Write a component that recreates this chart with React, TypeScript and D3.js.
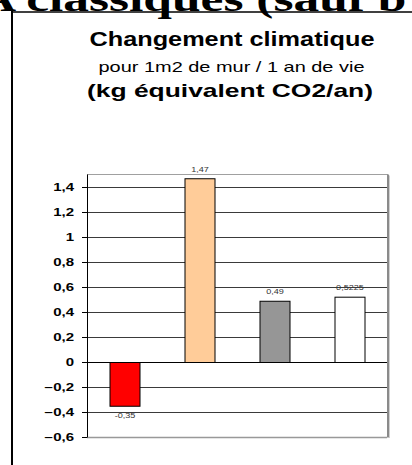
import React from "react";
import * as d3 from "d3";

const categories = ["Mur 1", "Mur 2", "Mur 3", "Mur 4"];
const values = [-0.35, 1.47, 0.49, 0.5225];
const valueLabels = ["-0,35", "1,47", "0,49", "0,5225"];
const barColors = ["#FF0000", "#FFCC99", "#969696", "#FFFFFF"];
const yTicks = [-0.6, -0.4, -0.2, 0, 0.2, 0.4, 0.6, 0.8, 1, 1.2, 1.4];

const W = 412;
const H = 465;
const left = 87;
const right = 388;
const top = 174.5;
const bottom = 437;

const fmt = (v: number) => d3.format("")(Math.round(v * 10) / 10).replace(".", ",");

export default function App() {
  const y = d3.scaleLinear().domain([-0.6, 1.5]).range([bottom, top]);
  const x = d3
    .scaleBand<string>()
    .domain(categories)
    .range([left, left + 300])
    .paddingInner(0.6)
    .paddingOuter(0.3);
  const crisp = (v: number) => Math.round(v) + 0.5;
  const sans = "'Liberation Sans', Arial, sans-serif";

  return (
    <svg
      width={W}
      height={H}
      viewBox={`0 0 ${W} ${H}`}
      style={{ position: "absolute", left: 0, top: 0, background: "#fff" }}
    >
      <rect x={0} y={0} width={W} height={H} fill="#fff" />
      {/* big serif heading cut at top */}
      <text
        transform="translate(-21,10.5) scale(1.47,1)"
        fontFamily="'Liberation Serif', 'Times New Roman', serif"
        fontWeight="bold"
        fontSize={35}
        fill="#000"
      >
        A classiques (sauf b
      </text>
      {/* outer frame */}
      <line x1={11} x2={W} y1={12} y2={12} stroke="#000" strokeWidth={1.5} />
      <line x1={12} x2={12} y1={11} y2={H} stroke="#000" strokeWidth={2} />

      {/* titles */}
      <text x={232} y={46} textAnchor="middle" fontFamily={sans} fontWeight="bold" fontSize={20}
        textLength={285} lengthAdjust="spacingAndGlyphs">Changement climatique</text>
      <text x={231.5} y={71.5} textAnchor="middle" fontFamily={sans} fontSize={15}
        textLength={266} lengthAdjust="spacingAndGlyphs">pour 1m2 de mur / 1 an de vie</text>
      <text x={230} y={97} textAnchor="middle" fontFamily={sans} fontWeight="bold" fontSize={18.5}
        textLength={286} lengthAdjust="spacingAndGlyphs">(kg équivalent CO2/an)</text>

      {/* plot area border */}
      <line x1={left} x2={right} y1={top} y2={top} stroke="#a0a0a0" strokeWidth={1} />
      <line x1={right} x2={right} y1={top} y2={bottom + 0.5} stroke="#8a8a8a" strokeWidth={2} />
      <line x1={right + 1.5} x2={right + 1.5} y1={top + 1} y2={bottom + 1} stroke="#d0d0d0" strokeWidth={1} />

      {/* gridlines */}
      {yTicks.map((t) => (
        <line
          key={"g" + t}
          x1={left}
          x2={right - 1}
          y1={crisp(y(t))}
          y2={crisp(y(t))}
          stroke={t === -0.6 ? "#999" : t === 0 ? "#000" : "#3a3a3a"}
          strokeWidth={t === -0.6 ? 1.5 : 1}
        />
      ))}

      {/* bars */}
      {values.map((v, i) => {
        const y0 = y(0);
        const y1 = y(v);
        return (
          <rect
            key={"b" + i}
            x={(x(categories[i]) as number) + 0.5}
            y={Math.min(y0, y1) + 0.5}
            width={x.bandwidth()}
            height={Math.abs(y1 - y0)}
            fill={barColors[i]}
            stroke="#000"
            strokeWidth={1}
          />
        );
      })}
      {/* zero line on top */}
      <line x1={left} x2={right - 1} y1={crisp(y(0))} y2={crisp(y(0))} stroke="#000" strokeWidth={1} />

      {/* axis */}
      <line x1={left + 0.5} x2={left + 0.5} y1={top} y2={bottom + 0.5} stroke="#000" strokeWidth={1} />
      {yTicks.map((t) => (
        <g key={"t" + t}>
          <line x1={left - 5} x2={left} y1={crisp(y(t))} y2={crisp(y(t))} stroke="#000" strokeWidth={1} />
          <text
            transform={`translate(74,${y(t) + 3.6}) scale(1.5,1)`}
            textAnchor="end"
            fontFamily={sans}
            fontWeight="bold"
            fontSize={10}
            fill="#000"
          >
            {fmt(t)}
          </text>
        </g>
      ))}

      {/* value labels */}
      {values.map((v, i) => {
        const cx = (x(categories[i]) as number) + x.bandwidth() / 2 + 0.5;
        const ly = v >= 0 ? y(v) - 6.5 : y(v) + 12.5;
        return (
          <text
            key={"l" + i}
            transform={`translate(${cx},${ly}) scale(1.4,1)`}
            textAnchor="middle"
            fontFamily={sans}
            fontSize={6.5}
            fill="#333"
          >
            {valueLabels[i]}
          </text>
        );
      })}
    </svg>
  );
}
